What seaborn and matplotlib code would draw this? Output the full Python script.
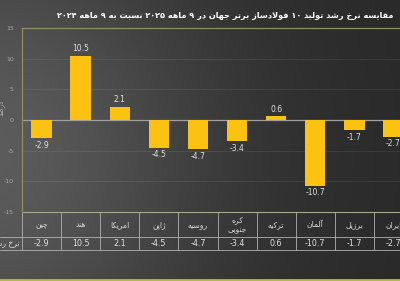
import numpy as np
import matplotlib
matplotlib.use("Agg")
import matplotlib.pyplot as plt
import matplotlib.transforms as mtransforms
import seaborn as sns

# ---------------- data ----------------
title_text = "مقایسه نرخ رشد تولید ۱۰ فولادساز برتر جهان در ۹ ماهه ۲۰۲۵ نسبت به ۹ ماهه ۲۰۲۴"
categories = ["چین", "هند", "امریکا", "ژاپن", "روسیه", "کره\nجنوبی", "ترکیه", "آلمان", "برزیل", "ایران"]
values = [-2.9, 10.5, 2.1, -4.5, -4.7, -3.4, 0.6, -10.7, -1.7, -2.7]
row_label = "نرخ رشد"
y_title = "درصد"
y_ticks = [-15, -10, -5, 0, 5, 10, 15]

# ---------------- simple Persian shaping ----------------
F = {
    'ا': ('\uFE8D', '\uFE8E', None, None),
    'آ': ('\uFE81', '\uFE82', None, None),
    'ب': ('\uFE8F', '\uFE90', '\uFE91', '\uFE92'),
    'پ': ('\uFB56', '\uFB57', '\uFB58', '\uFB59'),
    'ت': ('\uFE95', '\uFE96', '\uFE97', '\uFE98'),
    'ج': ('\uFE9D', '\uFE9E', '\uFE9F', '\uFEA0'),
    'چ': ('\uFB7A', '\uFB7B', '\uFB7C', '\uFB7D'),
    'خ': ('\uFEA5', '\uFEA6', '\uFEA7', '\uFEA8'),
    'د': ('\uFEA9', '\uFEAA', None, None),
    'ر': ('\uFEAD', '\uFEAE', None, None),
    'ز': ('\uFEAF', '\uFEB0', None, None),
    'ژ': ('\uFB8A', '\uFB8B', None, None),
    'س': ('\uFEB1', '\uFEB2', '\uFEB3', '\uFEB4'),
    'ش': ('\uFEB5', '\uFEB6', '\uFEB7', '\uFEB8'),
    'ص': ('\uFEB9', '\uFEBA', '\uFEBB', '\uFEBC'),
    'ف': ('\uFED1', '\uFED2', '\uFED3', '\uFED4'),
    'ق': ('\uFED5', '\uFED6', '\uFED7', '\uFED8'),
    'ک': ('\uFB8E', '\uFB8F', '\uFB90', '\uFB91'),
    'گ': ('\uFB92', '\uFB93', '\uFB94', '\uFB95'),
    'ل': ('\uFEDD', '\uFEDE', '\uFEDF', '\uFEE0'),
    'م': ('\uFEE1', '\uFEE2', '\uFEE3', '\uFEE4'),
    'ن': ('\uFEE5', '\uFEE6', '\uFEE7', '\uFEE8'),
    'و': ('\uFEED', '\uFEEE', None, None),
    'ه': ('\uFEE9', '\uFEEA', '\uFEEB', '\uFEEC'),
    'ی': ('\uFBFC', '\uFBFD', '\uFBFE', '\uFBFF'),
}


def shape(s):
    out = []
    i = 0
    while i < len(s):
        c = s[i]
        if c in F:
            prev = i > 0 and s[i - 1] in F and F[s[i - 1]][2] is not None
            if c == 'ل' and i + 1 < len(s) and s[i + 1] in ('ا', 'آ'):
                lig = {'ا': ('\uFEFB', '\uFEFC'), 'آ': ('\uFEF5', '\uFEF6')}[s[i + 1]]
                out.append(lig[1] if prev else lig[0])
                i += 2
                continue
            nxt = i + 1 < len(s) and s[i + 1] in F and F[c][2] is not None
            f = F[c]
            if prev and nxt:
                out.append(f[3])
            elif prev:
                out.append(f[1])
            elif nxt:
                out.append(f[2])
            else:
                out.append(f[0])
        else:
            out.append(c)
        i += 1
    return ''.join(out)


def fa(s):
    lines = []
    for line in s.split("\n"):
        sh = shape(line)
        runs = []
        for ch in sh:
            isd = ch.isdigit()
            if runs and runs[-1][0] == isd:
                runs[-1][1].append(ch)
            else:
                runs.append([isd, [ch]])
        res = ''
        for isd, chs in reversed(runs):
            res += ''.join(chs if isd else reversed(chs))
        lines.append(res)
    return "\n".join(lines)


# ---------------- figure ----------------
sns.set_theme(style="dark")
plt.rcParams['font.family'] = ['DejaVu Sans']

W, H = 400, 281
fig = plt.figure(figsize=(W / 100, H / 100), dpi=100)

# background gradient
bg = fig.add_axes([0, 0, 1, 1], zorder=-10)
xx, yy = np.meshgrid(np.linspace(0, 1, 200), np.linspace(0, 1, 140))
v = 0.16 + 0.2 * np.exp(-((xx + 0.05) ** 2 / 0.35 + (yy - 0.55) ** 2 / 0.8))
bg.imshow(np.dstack([v, v, v]), aspect='auto', extent=[0, 1, 0, 1], origin='upper')
bg.set_axis_off()

def px2fig(x, y):
    return x / W, 1 - y / H

left, top, right, bottom = 22, 28, 413, 212
ax = fig.add_axes([left / W, 1 - bottom / H, (right - left) / W, (bottom - top) / H])
ax.set_facecolor((0, 0, 0, 0))

x_idx = list(range(len(categories)))
sns.barplot(x=x_idx, y=values, ax=ax, color="#FBC212", width=0.52,
            saturation=1, native_scale=True, zorder=3, edgecolor="none", linewidth=0)
ax.set_xlim(-0.5, len(categories) - 0.5)
ax.set_ylim(-15, 15)
ax.set_yticks(y_ticks)
ax.set_yticklabels([str(t) for t in y_ticks], color="#a8a8a8", fontsize=4.5)
ax.tick_params(axis='y', length=0, pad=6)
ax.set_xticks([])
ax.set_xlabel("")
ax.grid(False)
for t in [-10, -5, 5, 10]:
    ax.axhline(t, color="#ffffff", alpha=0.08, lw=0.7, zorder=1)
ax.axhline(0, color="#a0a0a0", lw=0.9, zorder=2)

for sp in ['right', 'bottom']:
    ax.spines[sp].set_visible(False)
for sp in ['left', 'top']:
    ax.spines[sp].set_visible(True)
    ax.spines[sp].set_color("#8f8f5a")
    ax.spines[sp].set_linewidth(0.9)

# value labels
for i, val in enumerate(values):
    if val >= 0:
        ax.annotate(f"{val}", (i, val), xytext=(0, 2), textcoords='offset points',
                    ha='center', va='bottom', color="#e0e0e0", fontsize=5.5)
    else:
        ax.annotate(f"{val}", (i, val), xytext=(0, -2), textcoords='offset points',
                    ha='center', va='top', color="#e0e0e0", fontsize=5.5)

# table below plot
trans = mtransforms.blended_transform_factory(ax.transData, ax.transAxes)
ph = bottom - top
def yfrac(ypx):
    return (bottom - ypx) / ph

y_top, y_mid, y_bot = yfrac(212), yfrac(237), yfrac(250)
tcol = "#b0b0b0"
ax.plot([-0.5, len(categories) - 0.5], [y_top, y_top], transform=trans, color="#a9a98a",
        lw=0.8, clip_on=False)
xl = -0.5 - 22 / ((right - left) / len(categories))
for yv in (y_mid, y_bot):
    ax.plot([xl, len(categories) - 0.5], [yv, yv], transform=trans, color=tcol,
            lw=0.6, clip_on=False)
for k in range(len(categories) + 1):
    ax.plot([k - 0.5, k - 0.5], [y_top, y_bot], transform=trans, color=tcol,
            lw=0.6, clip_on=False)
for i, (c, val) in enumerate(zip(categories, values)):
    ax.text(i, (y_top + y_mid) / 2, fa(c), transform=trans, ha='center', va='center',
            color="#d8d8d8", fontsize=5.5, linespacing=1.1, clip_on=False)
    ax.text(i, (y_mid + y_bot) / 2, f"{val}", transform=trans, ha='center', va='center',
            color="#e0e0e0", fontsize=5.8, clip_on=False)

fx, fy = px2fig(20, 243.5)
fig.text(fx, fy, fa(row_label), ha='right', va='center', color="#d8d8d8", fontsize=5.5)

fx, fy = px2fig(2, 108)
fig.text(fx, fy, fa(y_title), ha='center', va='center', rotation=90, color="#b0b0b0",
         fontsize=5)

# title
fx, fy = px2fig(393, 16)
fig.text(fx, fy, fa(title_text), ha='right', va='center', color="#ffffff", fontsize=5.9,
         fontweight='bold')

# bottom line
bl = fig.add_axes([0, 0, 1, 1], zorder=-5)
bl.set_axis_off()
bl.set_xlim(0, W)
bl.set_ylim(H, 0)
bl.plot([0, W], [279.5, 279.5], color="#b8b84a", lw=2)

fig.savefig("out.png", dpi=100)
